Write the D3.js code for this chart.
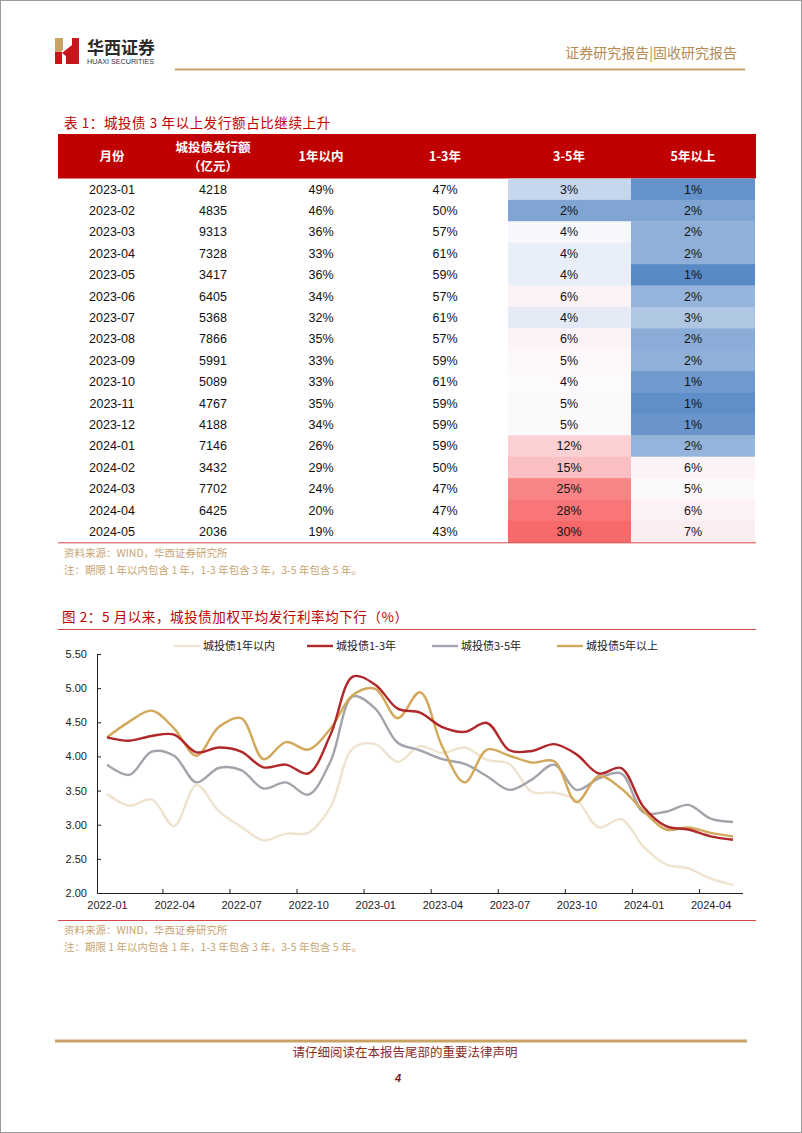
<!DOCTYPE html>
<html><head><meta charset="utf-8">
<script src="https://cdn.jsdelivr.net/npm/d3@7"></script>
<style>
html,body{margin:0;padding:0;background:#fff;}
svg{display:block;}
text{font-family:"Liberation Sans","Noto Sans CJK SC",Arial,sans-serif;}
.cjk{font-family:"Noto Sans CJK SC","Liberation Sans",sans-serif;}
</style>
</head><body>
<svg id="page" width="802" height="1133"></svg>
<script>
// ---------- Table data ----------
const tableMonths = ["2023-01","2023-02","2023-03","2023-04","2023-05","2023-06","2023-07","2023-08","2023-09","2023-10","2023-11","2023-12","2024-01","2024-02","2024-03","2024-04","2024-05"];
const issuance = [4218,4835,9313,7328,3417,6405,5368,7866,5991,5089,4767,4188,7146,3432,7702,6425,2036];
const shareWithin1y = [49,46,36,33,36,34,32,35,33,33,35,34,26,29,24,20,19];
const share1to3y = [47,50,57,61,59,57,61,57,59,61,59,59,59,50,47,47,43];
const share3to5y = [3.0,1.7,3.9,3.65,3.65,5.6,3.55,5.6,4.7,4.4,4.6,4.5,11.6,14.8,25.0,27.7,30.0];
const shareOver5y = [1.2,1.7,2.0,2.0,1.0,2.1,2.6,1.9,2.0,1.4,1.1,1.3,2.1,5.6,4.6,5.8,6.7];
const tableHeaders = ["月份","城投债发行额","1年以内","1-3年","3-5年","5年以上"];

// ---------- Chart data ----------
const chartMonths = ["2022-01","2022-02","2022-03","2022-04","2022-05","2022-06","2022-07","2022-08","2022-09","2022-10","2022-11","2022-12",
  "2023-01","2023-02","2023-03","2023-04","2023-05","2023-06","2023-07","2023-08","2023-09","2023-10","2023-11","2023-12",
  "2024-01","2024-02","2024-03","2024-04","2024-05"];
const rateWithin1y = [3.45,3.28,3.37,2.98,3.58,3.20,2.97,2.77,2.87,2.88,3.26,4.12,4.18,3.92,4.15,4.05,4.13,3.95,3.89,3.48,3.47,3.36,2.96,3.08,2.68,2.42,2.36,2.21,2.12];
const rate1to3y = [4.28,4.23,4.30,4.32,4.06,4.13,4.07,3.84,3.88,3.75,4.32,5.17,5.05,4.70,4.64,4.43,4.36,4.49,4.09,4.08,4.18,4.03,3.75,3.83,3.26,2.98,2.93,2.83,2.78];
const rate3to5y = [3.88,3.73,4.07,4.01,3.62,3.83,3.80,3.53,3.62,3.44,3.93,4.88,4.70,4.20,4.09,3.96,3.89,3.71,3.51,3.66,3.88,3.51,3.68,3.75,3.18,3.19,3.29,3.09,3.04];
const rateOver5y = [4.28,4.51,4.67,4.41,4.01,4.43,4.56,3.96,4.21,4.10,4.41,4.90,4.99,4.56,4.94,4.14,3.62,4.10,4.01,3.91,3.93,3.33,3.71,3.53,3.20,2.93,2.96,2.88,2.83];
const seriesNames = ["城投债1年以内","城投债1-3年","城投债3-5年","城投债5年以上"];
const xTickLabels = ["2022-01","2022-04","2022-07","2022-10","2023-01","2023-04","2023-07","2023-10","2024-01","2024-04"];
const yTicks = [2.0,2.5,3.0,3.5,4.0,4.5,5.0,5.5];

const svg = d3.select("#page");
const RED = "#c00000", GOLD = "#c9a266", NOTE = "#c8a470";

// page border
svg.append("rect").attr("x",0.5).attr("y",0.5).attr("width",801).attr("height",1132)
  .attr("fill","none").attr("stroke","#9a9a9a");

// ---------- Header ----------
const logo = svg.append("g");
logo.append("polygon").attr("points","55,38 63,38 63,50 55,56").attr("fill","#c9a266");
logo.append("rect").attr("x",55).attr("y",52).attr("width",7).attr("height",12).attr("fill","#c8161d");
logo.append("polygon").attr("points","62,53 72,45 72,64 66,64 66,56").attr("fill","#c8161d");
logo.append("rect").attr("x",72).attr("y",38).attr("width",7).attr("height",26).attr("fill","#c8161d");
svg.append("text").attr("class","cjk").attr("x",87).attr("y",54).attr("font-size",17).attr("font-weight",700)
  .attr("fill","#2a2a2a").text("华西证券");
svg.append("text").attr("x",87).attr("y",64).attr("font-size",7.2).attr("fill","#333").text("HUAXI SECURITIES");
svg.append("text").attr("class","cjk").attr("x",737).attr("y",58).attr("text-anchor","end").attr("font-size",14)
  .attr("fill","#b48a55").text("证券研究报告|固收研究报告");
svg.append("line").attr("x1",175).attr("x2",745).attr("y1",69.5).attr("y2",69.5).attr("stroke",GOLD).attr("stroke-width",2);

// ---------- Table ----------
svg.append("text").attr("class","cjk").attr("x",64).attr("y",128).attr("font-size",13.5).attr("fill",RED)
  .attr("letter-spacing",0.6).text("表 1：城投债 3 年以上发行额占比继续上升");

const colCenters = [112, 213, 321, 445, 569, 693];
const tableLeft = 58, tableRight = 756, headTop = 134, headBottom = 178.5;
const rowH = 21.4;
const heatEdges = [508, 631, 755];

svg.append("rect").attr("x",tableLeft).attr("y",headTop).attr("width",tableRight-tableLeft).attr("height",headBottom-headTop).attr("fill",RED);
const head = svg.append("g").attr("class","cjk").attr("font-weight",700).attr("fill","#fff").attr("font-size",12.5).attr("text-anchor","middle");
tableHeaders.forEach((h,i)=>{
  if(i===1){
    head.append("text").attr("x",colCenters[i]).attr("y",152).attr("class","cjk").text(h);
    head.append("text").attr("x",colCenters[i]).attr("y",171).attr("class","cjk").text("（亿元）");
  } else {
    head.append("text").attr("x",colCenters[i]).attr("y",161).attr("class","cjk").text(h);
  }
});

const allHeat = share3to5y.concat(shareOver5y);
const mid = d3.median(allHeat.map(Math.round));
const heatColor = d3.scaleLinear().domain([d3.min(allHeat), mid, d3.max(allHeat)])
  .range(["#5A8AC6","#FCFCFF","#F8696B"]);

const yRow = d3.scaleBand().domain(tableMonths).range([headBottom, headBottom + rowH*tableMonths.length]);
const rows = svg.append("g").selectAll("g").data(tableMonths).join("g")
  .attr("transform", d=>`translate(0,${yRow(d)})`);
rows.append("rect").attr("x",heatEdges[0]).attr("width",heatEdges[1]-heatEdges[0]).attr("height",yRow.bandwidth()+0.4)
  .attr("fill",(d,i)=>heatColor(share3to5y[i]));
rows.append("rect").attr("x",heatEdges[1]).attr("width",heatEdges[2]-heatEdges[1]).attr("height",yRow.bandwidth()+0.4)
  .attr("fill",(d,i)=>heatColor(shareOver5y[i]));
const pct = v => Math.round(v) + "%";
const cellVals = (d,i)=>[d, String(issuance[i]), pct(shareWithin1y[i]), pct(share1to3y[i]), pct(share3to5y[i]), pct(shareOver5y[i])];
rows.selectAll("text").data((d,i)=>cellVals(d,i)).join("text")
  .attr("x",(d,j)=>colCenters[j]).attr("y",yRow.bandwidth()/2+4.5)
  .attr("text-anchor","middle").attr("font-size",12.5).attr("fill","#111").text(d=>d);

const tableBottom = headBottom + rowH*tableMonths.length;
svg.append("line").attr("x1",tableLeft).attr("x2",tableRight).attr("y1",tableBottom+0.5).attr("y2",tableBottom+0.5)
  .attr("stroke","#d04848").attr("stroke-width",1);
svg.append("text").attr("class","cjk").attr("x",64).attr("y",557).attr("font-size",10.5).attr("fill",NOTE).text("资料来源：WIND，华西证券研究所");
svg.append("text").attr("class","cjk").attr("x",64).attr("y",574).attr("font-size",10.5).attr("fill",NOTE).text("注：期限 1 年以内包含 1 年，1-3 年包含 3 年，3-5 年包含 5 年。");

// ---------- Chart ----------
svg.append("text").attr("class","cjk").attr("x",62).attr("y",622).attr("font-size",13.5).attr("fill",RED)
  .attr("letter-spacing",0.6).text("图 2：5 月以来，城投债加权平均发行利率均下行（%）");
svg.append("line").attr("x1",tableLeft).attr("x2",tableRight).attr("y1",629.5).attr("y2",629.5).attr("stroke","#d04848").attr("stroke-width",1);

const plotL = 97, plotR = 743, plotT = 654, plotB = 893;
const x = d3.scalePoint().domain(chartMonths).range([107, 733]);
const y = d3.scaleLinear().domain([2, 5.5]).range([plotB, plotT]);

const yAxis = svg.append("g").attr("transform",`translate(${plotL},0)`)
  .call(d3.axisLeft(y).tickValues(yTicks).tickFormat(d3.format(".2f")).tickSizeInner(-4).tickSizeOuter(0).tickPadding(10));
yAxis.select(".domain").attr("stroke","#222");
yAxis.selectAll(".tick line").attr("stroke","#222");
yAxis.selectAll("text").attr("font-size",11).attr("fill","#222").attr("font-family","Liberation Sans, Arial, sans-serif");

const xAxis = svg.append("g").attr("transform",`translate(0,${plotB})`)
  .call(d3.axisBottom(x).tickValues(xTickLabels).tickSize(0).tickPadding(8));
xAxis.select(".domain").remove();
xAxis.selectAll("text").attr("font-size",11).attr("fill","#222").attr("font-family","Liberation Sans, Arial, sans-serif");
svg.append("line").attr("x1",plotL).attr("x2",plotR).attr("y1",plotB+0.5).attr("y2",plotB+0.5).attr("stroke","#222");
const tickMonths = xTickLabels.slice(1).map(m => chartMonths[chartMonths.indexOf(m)-1]);
svg.append("g").selectAll("line").data(tickMonths).join("line")
  .attr("x1",d=>x(d)+x.step()/2).attr("x2",d=>x(d)+x.step()/2)
  .attr("y1",plotB).attr("y2",plotB-4).attr("stroke","#222");

const series = [
  {name:seriesNames[0], values:rateWithin1y, color:"#efe3cf"},
  {name:seriesNames[1], values:rate1to3y, color:"#b0282a"},
  {name:seriesNames[2], values:rate3to5y, color:"#a3a3ab"},
  {name:seriesNames[3], values:rateOver5y, color:"#d2a85a"}
];
const line = d3.line().x((d,i)=>x(chartMonths[i])).y(d=>y(d)).curve(d3.curveCatmullRom.alpha(0.5));
const drawOrder = [0,2,3,1];
svg.append("g").selectAll("path").data(drawOrder.map(i=>series[i])).join("path")
  .attr("d",d=>line(d.values)).attr("fill","none").attr("stroke",d=>d.color).attr("stroke-width",2.4)
  .attr("stroke-linejoin","round");

// legend
const legendX = [174, 307, 432, 557];
const lg = svg.append("g").selectAll("g").data(series).join("g")
  .attr("transform",(d,i)=>`translate(${legendX[i]},646)`);
lg.append("line").attr("x1",0).attr("x2",26).attr("y1",0).attr("y2",0).attr("stroke",d=>d.color).attr("stroke-width",2.4);
lg.append("text").attr("class","cjk").attr("x",29).attr("y",4).attr("font-size",11).attr("fill","#222").text(d=>d.name);

svg.append("line").attr("x1",tableLeft).attr("x2",tableRight).attr("y1",920.5).attr("y2",920.5).attr("stroke","#d04848").attr("stroke-width",1);
svg.append("text").attr("class","cjk").attr("x",64).attr("y",934).attr("font-size",10.5).attr("fill",NOTE).text("资料来源：WIND，华西证券研究所");
svg.append("text").attr("class","cjk").attr("x",64).attr("y",951).attr("font-size",10.5).attr("fill",NOTE).text("注：期限 1 年以内包含 1 年，1-3 年包含 3 年，3-5 年包含 5 年。");

// ---------- Footer ----------
svg.append("line").attr("x1",55).attr("x2",747).attr("y1",1041).attr("y2",1041).attr("stroke",GOLD).attr("stroke-width",3);
svg.append("text").attr("class","cjk").attr("x",405).attr("y",1057).attr("text-anchor","middle").attr("font-size",12.5)
  .attr("fill","#8a2a2a").text("请仔细阅读在本报告尾部的重要法律声明");
svg.append("text").attr("x",398).attr("y",1082).attr("text-anchor","middle").attr("font-size",11).attr("font-weight",700)
  .attr("font-style","italic").attr("fill","#7a1a1a").text("4");
</script>
</body></html>
